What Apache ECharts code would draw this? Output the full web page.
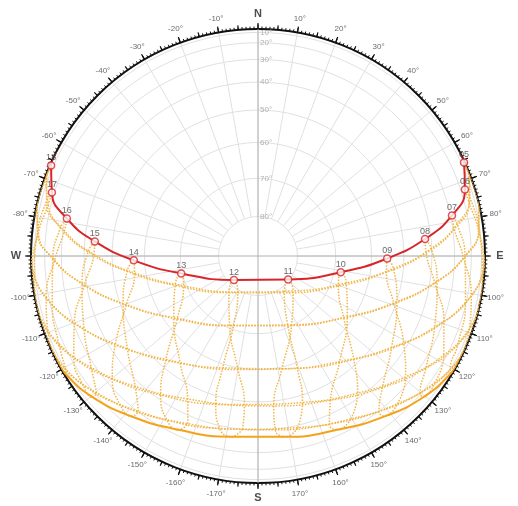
<!DOCTYPE html>
<html>
<head>
<meta charset="utf-8">
<script src="https://cdn.jsdelivr.net/npm/echarts@6/dist/echarts.min.js"></script>
<style>
html, body { margin: 0; padding: 0; background: #fff; }
#chart { width: 518px; height: 506px; }
</style>
</head>
<body>
<div id="chart"></div>
<script>
// clock hours marked on every day path
const hours = [5, 6, 7, 8, 9, 10, 11, 12, 13, 14, 15, 16, 17, 18]
// altitude rings (deg)
const ringAlts = [10, 20, 30, 40, 50, 60, 70, 80]
// azimuth tick labels round the rim (deg from north, clockwise)
const azTicks = [0, 10, 20, 30, 40, 50, 60, 70, 80, 90, 100, 110, 120, 130, 140, 150, 160, 170, 180, 190, 200, 210, 220, 230, 240, 250, 260, 270, 280, 290, 300, 310, 320, 330, 340, 350]
// sun position on the 21st of each month, one [azimuth, altitude] per hour above
const jan21 = [[102.9, -18.9], [109.6, -6.4], [117.0, 5.6], [125.7, 16.7], [136.7, 26.5], [150.3, 34.3], [166.9, 39.1], [-174.9, 40.0], [-157.3, 36.8], [-142.4, 30.3], [-130.3, 21.3], [-120.7, 10.6], [-112.7, -1.0], [-105.8, -13.3]]
const feb21 = [[94.3, -15.5], [101.5, -2.6], [109.1, 10.0], [118.1, 21.9], [129.3, 32.8], [144.0, 41.7], [163.1, 47.6], [-174.8, 48.9], [-153.8, 45.4], [-136.7, 37.9], [-123.8, 27.9], [-113.8, 16.5], [-105.5, 4.2], [-98.1, -8.5]]
const mar21 = [[85.4, -8.8], [92.9, 4.2], [100.6, 17.1], [109.5, 29.7], [121.0, 41.5], [137.2, 51.6], [160.7, 58.4], [-170.0, 59.5], [-144.0, 54.3], [-125.6, 45.0], [-112.9, 33.7], [-103.4, 21.3], [-95.3, 8.4], [-87.8, -4.6]]
const apr21 = [[76.1, -0.8], [83.4, 12.0], [90.6, 25.0], [98.7, 38.0], [109.3, 50.6], [125.9, 62.2], [156.8, 70.5], [-157.9, 70.6], [-126.5, 62.5], [-109.6, 50.9], [-99.0, 38.3], [-90.8, 25.3], [-83.6, 12.3], [-76.3, -0.5]]
const may21 = [[69.1, 4.0], [75.8, 16.4], [82.2, 29.2], [89.0, 42.2], [97.2, 55.2], [110.5, 67.8], [144.4, 78.5], [-141.5, 78.1], [-109.5, 67.2], [-96.7, 54.5], [-88.6, 41.5], [-81.9, 28.5], [-75.5, 15.8], [-68.7, 3.4]]
const jun21 = [[65.6, 4.7], [72.2, 16.8], [78.2, 29.2], [84.2, 42.3], [91.1, 55.3], [101.1, 68.2], [127.9, 80.3], [-134.9, 81.4], [-102.8, 69.7], [-92.0, 56.8], [-84.9, 43.8], [-78.9, 30.9], [-72.9, 18.2], [-66.4, 6.0]]
const jul21 = [[67.6, 2.2], [74.5, 14.5], [80.9, 27.3], [87.5, 40.2], [95.3, 53.2], [107.0, 66.0], [134.9, 77.4], [-150.6, 79.5], [-111.9, 69.3], [-97.8, 56.7], [-89.4, 43.7], [-82.6, 30.7], [-76.2, 17.9], [-69.6, 5.5]]
const aug21 = [[75.5, -1.6], [82.8, 11.2], [90.0, 24.2], [98.0, 37.2], [108.2, 49.9], [124.2, 61.6], [153.9, 70.3], [-160.6, 71.1], [-127.7, 63.3], [-110.3, 51.8], [-99.4, 39.2], [-91.2, 26.3], [-83.9, 13.3], [-76.7, 0.4]]
const sep21 = [[87.2, -5.4], [94.6, 7.6], [102.6, 20.5], [112.0, 33.0], [124.4, 44.5], [142.3, 54.0], [168.0, 59.5], [-162.5, 58.9], [-138.3, 52.4], [-121.7, 42.4], [-110.0, 30.6], [-101.0, 18.1], [-93.2, 5.2], [-85.7, -7.8]]
const oct21 = [[98.3, -9.3], [105.6, 3.5], [113.9, 15.7], [123.8, 27.2], [136.6, 37.1], [153.3, 44.7], [174.0, 48.4], [-164.1, 47.2], [-145.0, 41.6], [-130.2, 32.8], [-118.9, 22.0], [-109.9, 10.2], [-102.2, -2.3], [-95.0, -15.2]]
const nov21 = [[105.9, -13.8], [112.8, -1.5], [120.7, 10.1], [130.2, 20.7], [142.1, 29.8], [157.0, 36.4], [174.3, 39.7], [-167.5, 38.9], [-151.0, 34.2], [-137.3, 26.6], [-126.3, 16.8], [-117.5, 5.8], [-110.1, -6.2], [-103.4, -18.6]]
const dec21 = [[107.4, -17.7], [113.9, -5.5], [121.4, 6.1], [130.4, 16.6], [141.5, 25.7], [155.2, 32.6], [171.3, 36.3], [-171.6, 36.4], [-155.5, 32.7], [-141.8, 25.9], [-130.6, 16.8], [-121.6, 6.3], [-114.1, -5.2], [-107.5, -17.4]]
// sunrise azimuth per month (sunset is the mirror, west)
const riseAz = [113.4, 103.0, 90.5, 76.6, 66.6, 62.7, 66.3, 76.4, 90.2, 103.6, 113.7, 117.3]

const monthPaths = [jan21, feb21, mar21, apr21, may21, jun21, jul21, aug21, sep21, oct21, nov21, dec21]
const rad = Math.PI / 180
const R = 227
const center = [258, 256]
// orthographic: radius = cos(alt); below the horizon pushed outside the rim and clipped
const toPolar = (az, alt) => [alt >= 0 ? Math.cos(alt * rad) : 2 - Math.cos(alt * rad), (az + 360) % 360]

const red = '#d7262b'
const orange = '#f4a21c'
const dots = '#f1b548'
const series = []

// altitude rings
ringAlts.forEach(a => {
  const d = []
  for (let t = 0; t <= 360; t += 3) d.push([Math.cos(a * rad), t])
  series.push({ type: 'line', coordinateSystem: 'polar', polarIndex: 1, data: d, symbol: 'none', silent: true, clip: false, lineStyle: { color: '#e0e0e0', width: 1 }, z: 1 })
})
// N-S and E-W lines
series.push({ type: 'line', coordinateSystem: 'polar', polarIndex: 1, data: [[1, 0], [1, 180]], symbol: 'none', silent: true, clip: false, lineStyle: { color: '#b0b0b0', width: 1 }, z: 1 })
series.push({ type: 'line', coordinateSystem: 'polar', polarIndex: 1, data: [[1, 90], [1, 270]], symbol: 'none', silent: true, clip: false, lineStyle: { color: '#b0b0b0', width: 1 }, z: 1 })
// ring labels along north
series.push({
  type: 'scatter', coordinateSystem: 'polar', polarIndex: 1, symbolSize: 0, clip: false, silent: true, z: 2,
  data: ringAlts.map(a => [Math.cos(a * rad), 0, a]),
  label: { show: true, position: 'right', distance: 2, fontSize: 8, color: '#9c9c9c', formatter: p => p.value[2] + '°' }
})
// rim labels, centred just outside the ticks
series.push({
  type: 'scatter', coordinateSystem: 'polar', polarIndex: 1, symbolSize: 0, clip: false, silent: true, z: 2,
  data: azTicks.map(v => [v % 90 === 0 ? 1.066 : 1.063, v]),
  label: {
    show: true, position: 'inside', fontSize: 8, color: '#444',
    formatter: p => {
      const v = p.value[1]
      if (v === 0) return '{c|N}'
      if (v === 90) return '{c|E}'
      if (v === 180) return '{c|S}'
      if (v === 270) return '{c|W}'
      return (v > 180 ? '-' + (360 - v) : v) + '°'
    },
    rich: { c: { fontSize: 11, fontWeight: 'bold', color: '#222' } }
  }
})

// hour analemmas
hours.forEach((hh, i) => {
  const d = monthPaths.map(m => toPolar(m[i][0], m[i][1]))
  d.push(d[0])
  series.push({ type: 'line', coordinateSystem: 'polar', polarIndex: 1, data: d, symbol: 'none', smooth: true, clip: true, silent: true, lineStyle: { color: dots, width: 1.5, type: 'dotted' }, z: 3 })
})

// day paths
monthPaths.forEach((m, k) => {
  const d = [toPolar(riseAz[k], 0)]
  m.forEach(p => { if (p[1] >= 0) d.push(toPolar(p[0], p[1])) })
  d.push(toPolar(-riseAz[k], 0))
  let st = { color: dots, width: 1.5, type: 'dotted' }
  if (m === jun21) st = { color: red, width: 2 }
  if (m === dec21) st = { color: orange, width: 2 }
  series.push({ type: 'line', coordinateSystem: 'polar', polarIndex: 1, data: d, symbol: 'none', smooth: true, clip: false, silent: true, lineStyle: st, z: m === jun21 ? 5 : 4 })
})

// hour marks on 21 June
series.push({
  type: 'scatter', coordinateSystem: 'polar', polarIndex: 1, clip: false, z: 6,
  symbol: 'circle', symbolSize: 7,
  itemStyle: { color: '#fff', borderColor: red, borderWidth: 1.5 },
  data: jun21.map((p, i) => toPolar(p[0], p[1]).concat(hours[i])),
  label: { show: true, position: 'top', distance: -1, fontSize: 9, color: '#444', formatter: p => String(p.value[2]).padStart(2, '0') }
})

const hiddenRadius = { axisLine: { show: false }, axisTick: { show: false }, axisLabel: { show: false }, splitLine: { show: false } }
const chart = echarts.init(document.getElementById('chart'))
chart.setOption({
  animation: false,
  textStyle: { fontFamily: 'Liberation Sans, Arial, sans-serif' },
  polar: [
    { center: center, radius: [R * Math.cos(80 * rad), R] },
    { center: center, radius: [0, R] },
    { center: center, radius: [0, R] }
  ],
  angleAxis: [
    {
      polarIndex: 0, type: 'value', min: 0, max: 360, interval: 10, startAngle: 90, clockwise: true,
      axisLine: { show: false }, axisTick: { show: false }, axisLabel: { show: false },
      splitLine: { show: true, lineStyle: { color: '#e0e0e0', width: 1 } }
    },
    {
      polarIndex: 1, type: 'value', min: 0, max: 360, interval: 10, startAngle: 90, clockwise: true,
      axisLine: { lineStyle: { color: '#111', width: 2 } },
      axisTick: { show: true, length: 6, lineStyle: { color: '#111', width: 1.2 } },
      minorTick: { show: true, splitNumber: 10, length: 2.5, lineStyle: { color: '#111', width: 1 } },
      splitLine: { show: false },
      axisLabel: { show: false }
    },
    {
      polarIndex: 2, type: 'value', min: 0, max: 360, interval: 5, startAngle: 90, clockwise: true,
      axisLine: { show: false },
      axisTick: { show: true, length: 4.5, lineStyle: { color: '#111', width: 1.2 } },
      axisLabel: { show: false },
      splitLine: { show: false }
    }
  ],
  radiusAxis: [
    Object.assign({ polarIndex: 0, type: 'value', min: Math.cos(80 * rad), max: 1 }, hiddenRadius),
    Object.assign({ polarIndex: 1, type: 'value', min: 0, max: 1 }, hiddenRadius),
    Object.assign({ polarIndex: 2, type: 'value', min: 0, max: 1 }, hiddenRadius)
  ],
  series: series
})
</script>
</body>
</html>
